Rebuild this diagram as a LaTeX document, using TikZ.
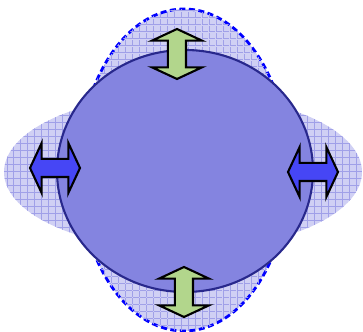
\documentclass[tikz,border=0pt]{standalone}
\usetikzlibrary{shapes.geometric,shapes.arrows,patterns}
\def\pxu{0.0151cm}
\definecolor{bgfill}{RGB}{208,208,244}
\definecolor{gridcol}{RGB}{160,160,232}
\definecolor{circfill}{RGB}{132,132,224}
\definecolor{circline}{RGB}{40,40,140}
\definecolor{vgreen}{RGB}{178,214,140}
\definecolor{hblue}{RGB}{70,70,245}
\tikzset{
  blob/.style={ellipse, inner sep=0pt, fill=bgfill,
    postaction={draw=none, pattern=grid, pattern color=gridcol}},
  dashblob/.style={blob, draw=blue, line width=1.2pt, dash pattern=on 2.6pt off 1.5pt},
  bigcirc/.style={ellipse, inner sep=0pt, fill=circfill, draw=circline, line width=0.9pt},
  darrow/.style={double arrow, draw=black, line width=0.9pt, inner sep=0pt,
    inner ysep=8*\pxu, minimum height=50*\pxu,
    double arrow head extend=16*\pxu, double arrow tip angle=130},
  vdarrow/.style={darrow, fill=vgreen, rotate=90},
  hdarrow/.style={darrow, fill=hblue}
}
\begin{document}
\begin{tikzpicture}[x=\pxu, y=-\pxu]
\useasboundingbox (0,0) rectangle (363,332);
\node[blob, minimum width=358*\pxu, minimum height=156*\pxu] (hell) at (183,172) {};
\node[dashblob, minimum width=210*\pxu, minimum height=322*\pxu] (vell) at (184,170) {};
\node[bigcirc, minimum width=256*\pxu, minimum height=242*\pxu] (circ) at (185,171) {};
\node[vdarrow] (atop) at (177,54) {};
\node[vdarrow] (abot) at (184,292) {};
\node[hdarrow] (aleft) at (55,168) {};
\node[hdarrow] (aright) at (313,172) {};
\end{tikzpicture}
\end{document}
